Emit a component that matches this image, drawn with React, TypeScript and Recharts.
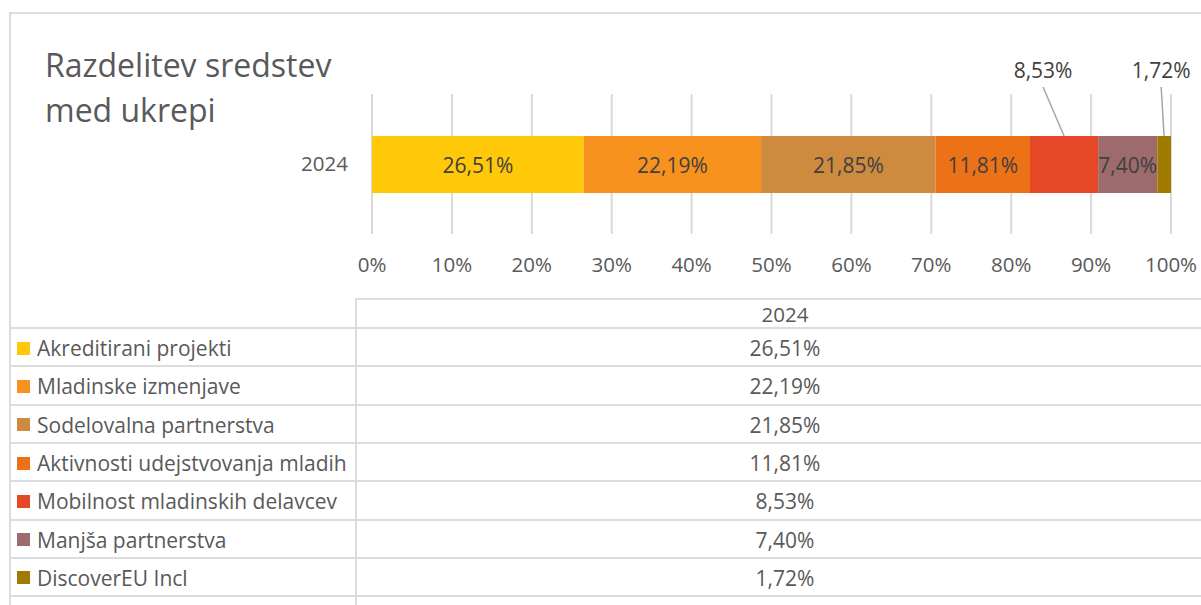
import React from "react";
import { BarChart, Bar, XAxis, YAxis, CartesianGrid, LabelList } from "recharts";

const title = ["Razdelitev sredstev", "med ukrepi"];
const year = "2024";
const seriesNames = [
  "Akreditirani projekti",
  "Mladinske izmenjave",
  "Sodelovalna partnerstva",
  "Aktivnosti udejstvovanja mladih",
  "Mobilnost mladinskih delavcev",
  "Manjša partnerstva",
  "DiscoverEU Incl",
];
const seriesValues = [26.51, 22.19, 21.85, 11.81, 8.53, 7.4, 1.72];
const seriesColors = ["#FFC808", "#F7921E", "#CE8A3F", "#EC7117", "#E54826", "#9D6B6B", "#A07B00"];
const xTicks = [0, 0.1, 0.2, 0.3, 0.4, 0.5, 0.6, 0.7, 0.8, 0.9, 1];

// labels that Excel had dragged above the bar, with a leader line
const outsideLabels: Record<number, number> = { 4: -21, 6: -3 };

const FONT = "'Open Sans', sans-serif";
const TEXT = "#595959";
const LINE = "#dcdcdc";

const fmt = (v: number) => v.toFixed(2).replace(".", ",") + "%";

const row: Record<string, string | number> = { year };
seriesNames.forEach((n, i) => {
  row["s" + i] = seriesValues[i];
});
const data = [row];

function barLabel(props: any, i: number) {
  const x = Number(props.x);
  const y = Number(props.y);
  const w = Number(props.width);
  const h = Number(props.height);
  const cx = x + w / 2;
  const text = fmt(seriesValues[i]);
  if (i in outsideLabels) {
    const lx = cx + outsideLabels[i];
    return (
      <g>
        <line x1={lx} y1={y - 49} x2={cx} y2={y} stroke="#a6a6a6" strokeWidth={1.5} />
        <text x={lx} y={y - 66} textAnchor="middle" dominantBaseline="central" fill="#404040" fontSize={21} fontFamily={FONT}>
          {text}
        </text>
      </g>
    );
  }
  return (
    <text x={cx} y={y + h / 2} textAnchor="middle" dominantBaseline="central" fill="#404040" fontSize={21} fontFamily={FONT}>
      {text}
    </text>
  );
}

export default function App() {
  const rowTop = 328;
  const rowH = 38.3;
  return (
    <div
      style={{
        position: "absolute",
        left: 0,
        top: 0,
        width: 1201,
        height: 605,
        overflow: "hidden",
        background: "#fff",
        fontFamily: FONT,
        color: TEXT,
      }}
    >
      {/* outer frame */}
      <div style={{ position: "absolute", left: 9, top: 12, width: 1300, height: 700, border: `2px solid ${LINE}` }} />

      <div style={{ position: "absolute", left: 45, top: 42, fontSize: 32, lineHeight: "45px", color: TEXT, whiteSpace: "nowrap" }}>
        {title[0]}
        <br />
        {title[1]}
      </div>

      <div style={{ position: "absolute", left: 0, top: 0 }}>
        <BarChart
          width={1201}
          height={300}
          data={data}
          layout="vertical"
          stackOffset="expand"
          margin={{ top: 94, right: 30, bottom: 0, left: 272 }}
        >
          <CartesianGrid horizontal={false} vertical stroke="#d9d9d9" strokeWidth={2} />
          <XAxis
            type="number"
            domain={[0, 1]}
            ticks={xTicks}
            tickFormatter={(v: number) => Math.round(v * 100) + "%"}
            axisLine={false}
            tickLine={false}
            tickSize={0}
            tickMargin={23}
            height={66}
            interval={0}
            tick={{ fill: TEXT, fontSize: 20.5, fontFamily: FONT }}
          />
          <YAxis
            type="category"
            dataKey="year"
            width={100}
            axisLine={false}
            tickLine={false}
            tickSize={0}
            tickMargin={24}
            tick={{ fill: TEXT, fontSize: 20.5, fontFamily: FONT }}
          />
          {seriesNames.map((n, i) => (
            <Bar key={n} dataKey={"s" + i} name={n} stackId="a" fill={seriesColors[i]} barSize={57} isAnimationActive={false}>
              <LabelList dataKey={"s" + i} content={(p: any) => barLabel(p, i)} />
            </Bar>
          ))}
        </BarChart>
      </div>

      {/* data table */}
      <div style={{ position: "absolute", left: 355, top: 298, width: 1300, height: 400, borderTop: `2px solid ${LINE}`, borderLeft: `2px solid ${LINE}` }} />
      <div
        style={{
          position: "absolute",
          left: 357,
          top: 300,
          width: 856,
          height: 28,
          lineHeight: "28px",
          textAlign: "center",
          fontSize: 20.5,
        }}
      >
        {year}
      </div>
      {seriesNames.map((n, i) => {
        const top = rowTop + i * rowH;
        return (
          <React.Fragment key={n}>
            <div style={{ position: "absolute", left: 10, top: top - 1, width: 1300, height: 0, borderTop: `2px solid ${LINE}` }} />
            <div
              style={{
                position: "absolute",
                left: 17,
                top: top + 1,
                height: rowH,
                display: "flex",
                alignItems: "center",
                fontSize: 21,
                whiteSpace: "nowrap",
              }}
            >
              <span style={{ display: "inline-block", width: 13, height: 13, background: seriesColors[i], marginRight: 7 }} />
              {n}
            </div>
            <div
              style={{
                position: "absolute",
                left: 357,
                top: top + 1,
                width: 856,
                height: rowH,
                lineHeight: rowH + "px",
                textAlign: "center",
                fontSize: 21,
              }}
            >
              {fmt(seriesValues[i])}
            </div>
          </React.Fragment>
        );
      })}
      <div style={{ position: "absolute", left: 10, top: rowTop + 7 * rowH - 1, width: 1300, height: 0, borderTop: `2px solid ${LINE}` }} />
    </div>
  );
}
